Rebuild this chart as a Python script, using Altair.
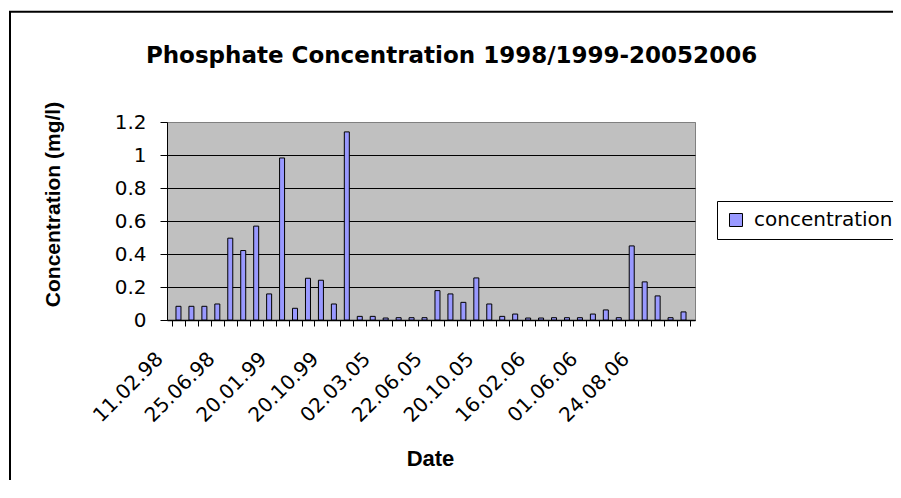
import json
import altair as alt
import pandas as pd

# ---- data ----
DATE_LABELS = ["11.02.98", "25.06.98", "20.01.99", "20.10.99", "02.03.05",
               "22.06.05", "20.10.05", "16.02.06", "01.06.06", "24.08.06"]
LABEL_EVERY = 4
SERIES_NAME = "concentration"
CONCENTRATION = [0.083, 0.083, 0.083, 0.097, 0.496, 0.421, 0.569, 0.158, 0.982, 0.071,
                 0.253, 0.241, 0.097, 1.14, 0.022, 0.022, 0.012, 0.014, 0.014, 0.014,
                 0.178, 0.158, 0.107, 0.255, 0.097, 0.022, 0.036, 0.012, 0.012, 0.014,
                 0.014, 0.014, 0.036, 0.061, 0.014, 0.449, 0.231, 0.146, 0.014, 0.049]
Y_TICKS = [0, 0.2, 0.4, 0.6, 0.8, 1.0, 1.2]

N = len(CONCENTRATION)
df = pd.DataFrame({"slot": list(range(N)), "value": CONCENTRATION, "series": SERIES_NAME})

labels_js = json.dumps(DATE_LABELS)
label_expr = (f"datum.value % {LABEL_EVERY} == 0 && datum.value < {N} ? "
              f"{labels_js}[datum.value / {LABEL_EVERY}] : ''")

bars = alt.Chart(df).transform_calculate(
    center="datum.slot + 0.5"
).mark_bar(size=5, stroke="black", strokeWidth=1).encode(
    x=alt.X("center:Q",
            scale=alt.Scale(domain=[0, N], nice=False, zero=False),
            axis=alt.Axis(values=list(range(N + 1)), labelExpr=label_expr,
                          labelAngle=-45, labelAlign="center", labelBaseline="middle",
                          labelOffset=-44, labelPadding=61,
                          labelFont="DejaVu Sans", labelFontSize=20, labelColor="black",
                          labelOverlap=False, labelFlush=False,
                          tickSize=6, tickColor="black", domainColor="black",
                          domainWidth=1.5, grid=False,
                          title="Date", titleFont="Liberation Sans", titleFontSize=22,
                          titleFontWeight="bold", titleColor="black",
                          titleX=263, titleY=145, titleAlign="center",
                          titleBaseline="alphabetic")),
    y=alt.Y("value:Q",
            scale=alt.Scale(domain=[0, 1.2], nice=False),
            axis=alt.Axis(values=Y_TICKS, format="~g",
                          labelFont="DejaVu Sans", labelFontSize=20, labelColor="black",
                          labelPadding=14, tickSize=7, tickColor="black",
                          domainColor="black", grid=True,
                          gridColor={"condition": {"test": "datum.value > 1.1", "value": "#808080"},
                                     "value": "black"},
                          gridWidth=1,
                          title="Concentration (mg/l)", titleFont="Liberation Sans",
                          titleFontSize=21, titleFontWeight="bold", titleColor="black",
                          titleAngle=270, titleX=-114, titleY=82, titleAlign="center",
                          titleBaseline="middle")),
    color=alt.Color("series:N", scale=alt.Scale(range=["#9999FF"]),
                    legend=alt.Legend(title=None, orient="none", legendX=550, legendY=79,
                                      strokeColor="black", padding=9,
                                      fillColor="white",
                                      symbolType="square", symbolSize=169,
                                      symbolStrokeColor="black", symbolStrokeWidth=1,
                                      labelFont="DejaVu Sans", labelFontSize=20,
                                      labelColor="black", labelOffset=8)),
)

edge = pd.DataFrame({"edge": ["frame"]})
left_border = alt.Chart(edge).mark_rule(color="black", strokeWidth=2).encode(
    x=alt.value(-157), y=alt.value(-110.3), y2=alt.value(420))
top_border = alt.Chart(edge).mark_rule(color="black", strokeWidth=2).encode(
    x=alt.value(-158), x2=alt.value(800), y=alt.value(-110.3))

chart = alt.layer(bars, left_border, top_border).properties(
    width=528, height=198,
    padding={"left": 159, "top": 114, "right": 198, "bottom": 160},
    autosize=alt.AutoSizeParams(type="none"),
    background="white",
    title=alt.Title("Phosphate Concentration 1998/1999-20052006",
                    font="DejaVu Sans", fontSize=23, fontWeight="bold", color="black",
                    anchor="middle", frame="group", dx=20.5, dy=75.6, offset=0,
                    baseline="alphabetic"),
).configure_view(fill="#C0C0C0", stroke="#808080", strokeWidth=1)

chart.save("out.html", embed_options={"renderer": "svg", "actions": False})
